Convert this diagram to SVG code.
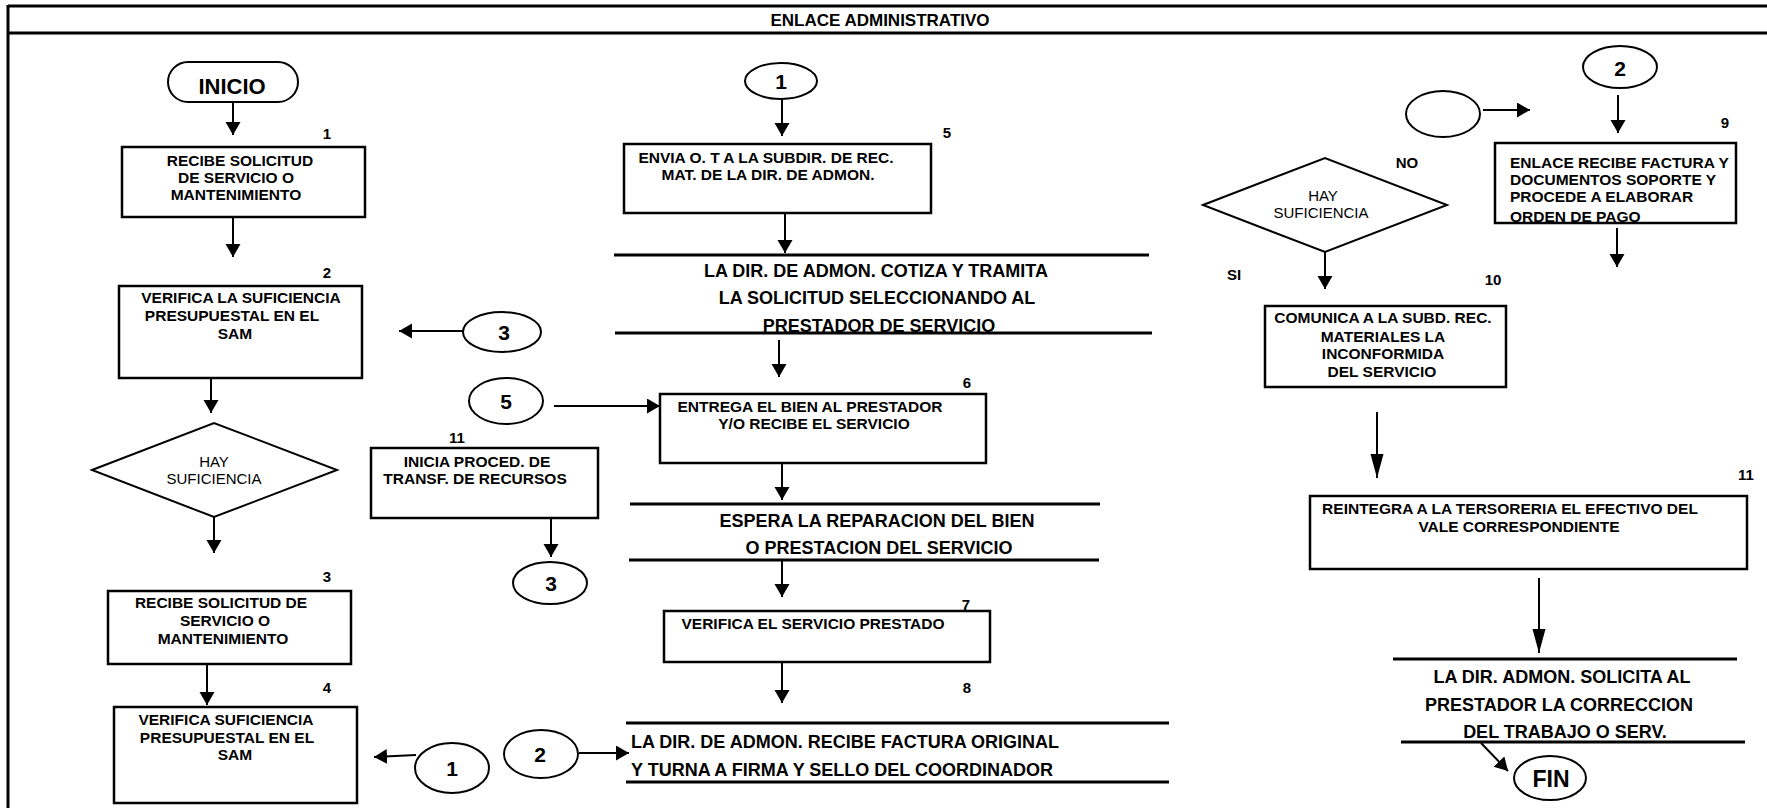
<svg xmlns="http://www.w3.org/2000/svg" width="1767" height="808" viewBox="0 0 1767 808">
<defs>
<style>
.bg{fill:#fff}
.frame{stroke:#000;stroke-width:3;fill:none}
.box{fill:#fff;stroke:#000;stroke-width:2.5}
.oval{fill:#fff;stroke:#000;stroke-width:2}
.rule{stroke:#000;stroke-width:3}
.conn{stroke:#000;stroke-width:2;fill:none}
text{font-family:"Liberation Sans",Arial,sans-serif;font-weight:bold;fill:#000}
.t{font-size:15.5px}
.c{text-anchor:middle}
.rt{font-size:18px}
.num{font-size:15px}
.cn{font-size:21px}
.reg{font-weight:normal;font-size:15px}
.ttl{font-size:17px}
</style>
<marker id="ah" markerUnits="userSpaceOnUse" markerWidth="14" markerHeight="16" refX="13" refY="7.5" orient="auto">
<path d="M0,0 L13,7.5 L0,15 z" fill="#000"/>
</marker>
<marker id="ahl" markerUnits="userSpaceOnUse" markerWidth="25" markerHeight="14" refX="24" refY="6.5" orient="auto">
<path d="M0,0 L24,6.5 L0,13 z" fill="#000"/>
</marker>
</defs>
<rect class="bg" x="0" y="0" width="1767" height="808"/>
<g id="frame">
<line class="frame" x1="8" y1="6" x2="1767" y2="6"/>
<line class="frame" x1="8" y1="33" x2="1767" y2="33"/>
<line class="frame" x1="8" y1="5" x2="8" y2="808"/>
<text class="ttl c" x="880" y="26">ENLACE ADMINISTRATIVO</text>
</g>
<g id="inicio">
<rect class="oval" x="168" y="62" width="130" height="40" rx="20"/>
<text class="c" style="font-size:22px" x="232" y="94">INICIO</text>
</g>
<g id="step1">
<text class="num c" x="327" y="139">1</text>
<rect class="box" x="122" y="147" width="243" height="70"/>
<text class="t c" x="240" y="166">RECIBE SOLICITUD</text>
<text class="t c" x="236" y="183">DE SERVICIO O</text>
<text class="t c" x="236" y="200">MANTENIMIENTO</text>
</g>
<g id="step2">
<text class="num c" x="327" y="278">2</text>
<rect class="box" x="119" y="286" width="243" height="92"/>
<text class="t c" x="241" y="303">VERIFICA LA SUFICIENCIA</text>
<text class="t c" x="232" y="321">PRESUPUESTAL EN EL</text>
<text class="t c" x="235" y="339">SAM</text>
</g>
<g id="conn3a">
<ellipse class="oval" cx="502" cy="332" rx="39" ry="20"/>
<text class="cn c" x="504" y="340">3</text>
</g>
<g id="decision1">
<polygon class="box" points="92,470 214,423 337,470 214,517" style="stroke-width:2"/>
<text class="reg c" x="214" y="467">HAY</text>
<text class="reg c" x="214" y="484">SUFICIENCIA</text>
</g>
<g id="conn5">
<ellipse class="oval" cx="506" cy="401" rx="37" ry="23"/>
<text class="cn c" x="506" y="409">5</text>
</g>
<g id="step11a">
<text class="num c" x="457" y="443">11</text>
<rect class="box" x="371" y="448" width="227" height="70"/>
<text class="t c" x="477" y="467">INICIA PROCED. DE</text>
<text class="t c" x="475" y="484">TRANSF. DE RECURSOS</text>
</g>
<g id="conn3b">
<ellipse class="oval" cx="550" cy="583" rx="37" ry="21"/>
<text class="cn c" x="551" y="591">3</text>
</g>
<g id="step3">
<text class="num c" x="327" y="582">3</text>
<rect class="box" x="108" y="591" width="243" height="73"/>
<text class="t c" x="221" y="608">RECIBE SOLICITUD DE</text>
<text class="t c" x="225" y="626">SERVICIO O</text>
<text class="t c" x="223" y="644">MANTENIMIENTO</text>
</g>
<g id="step4">
<text class="num c" x="327" y="693">4</text>
<rect class="box" x="114" y="707" width="243" height="96"/>
<text class="t c" x="226" y="725">VERIFICA SUFICIENCIA</text>
<text class="t c" x="227" y="743">PRESUPUESTAL EN EL</text>
<text class="t c" x="235" y="760">SAM</text>
</g>
<g id="conn1b">
<ellipse class="oval" cx="452" cy="768" rx="37" ry="25"/>
<text class="cn c" x="452" y="776">1</text>
</g>
<g id="conn2b">
<ellipse class="oval" cx="541" cy="754" rx="37" ry="24"/>
<text class="cn c" x="540" y="762">2</text>
</g>
<g id="conn1a">
<ellipse class="oval" cx="781" cy="81" rx="36" ry="18"/>
<text class="cn c" x="781" y="89">1</text>
</g>
<g id="step5">
<text class="num c" x="947" y="138">5</text>
<rect class="box" x="624" y="144" width="307" height="69"/>
<text class="t c" x="766" y="163">ENVIA O. T A LA SUBDIR. DE REC.</text>
<text class="t c" x="768" y="180">MAT. DE LA DIR. DE ADMON.</text>
</g>
<g id="cotiza">
<line class="rule" x1="614" y1="255" x2="1149" y2="255"/>
<text class="rt c" x="876" y="277">LA DIR. DE ADMON. COTIZA Y TRAMITA</text>
<text class="rt c" x="877" y="304">LA SOLICITUD SELECCIONANDO AL</text>
<text class="rt c" x="879" y="332">PRESTADOR DE SERVICIO</text>
<line class="rule" x1="615" y1="333" x2="1152" y2="333"/>
</g>
<g id="step6">
<text class="num c" x="967" y="388">6</text>
<rect class="box" x="660" y="394" width="326" height="69"/>
<text class="t c" x="810" y="412">ENTREGA EL BIEN AL PRESTADOR</text>
<text class="t c" x="814" y="429">Y/O RECIBE EL SERVICIO</text>
</g>
<g id="espera">
<line class="rule" x1="630" y1="504" x2="1100" y2="504"/>
<text class="rt c" x="877" y="527">ESPERA LA REPARACION DEL BIEN</text>
<text class="rt c" x="879" y="554">O PRESTACION DEL SERVICIO</text>
<line class="rule" x1="629" y1="560" x2="1099" y2="560"/>
</g>
<g id="step7">
<text class="num c" x="966" y="610">7</text>
<rect class="box" x="664" y="611" width="326" height="51"/>
<text class="t c" x="813" y="629">VERIFICA EL SERVICIO PRESTADO</text>
</g>
<g id="step8">
<text class="num c" x="967" y="693">8</text>
<line class="rule" x1="626" y1="723" x2="1169" y2="723"/>
<text class="rt" x="631" y="748">LA DIR. DE ADMON. RECIBE FACTURA ORIGINAL</text>
<text class="rt" x="631" y="776">Y TURNA A FIRMA Y SELLO DEL COORDINADOR</text>
<line class="rule" x1="626" y1="782" x2="1169" y2="782"/>
</g>
<g id="connEmpty">
<ellipse class="oval" cx="1443" cy="114" rx="37" ry="23"/>
</g>
<g id="conn2c">
<ellipse class="oval" cx="1620" cy="67" rx="37" ry="21"/>
<text class="cn c" x="1620" y="76">2</text>
</g>
<g id="step9">
<text class="num c" x="1725" y="128">9</text>
<rect class="box" x="1495" y="143" width="241" height="80"/>
<text class="t" x="1510" y="168">ENLACE RECIBE FACTURA Y</text>
<text class="t" x="1510" y="185">DOCUMENTOS SOPORTE Y</text>
<text class="t" x="1510" y="202">PROCEDE A ELABORAR</text>
<text class="t" x="1510" y="222">ORDEN DE PAGO</text>
</g>
<g id="decision2">
<polygon class="box" points="1203,205 1325,158 1447,205 1325,252" style="stroke-width:2"/>
<text class="reg c" x="1323" y="201">HAY</text>
<text class="reg c" x="1321" y="218">SUFICIENCIA</text>
<text class="num c" x="1407" y="168">NO</text>
<text class="num c" x="1234" y="280">SI</text>
</g>
<g id="step10">
<text class="num c" x="1493" y="285">10</text>
<rect class="box" x="1265" y="306" width="241" height="81"/>
<text class="t c" x="1383" y="323">COMUNICA A LA SUBD. REC.</text>
<text class="t c" x="1383" y="342">MATERIALES LA</text>
<text class="t c" x="1383" y="359">INCONFORMIDA</text>
<text class="t c" x="1382" y="377">DEL SERVICIO</text>
</g>
<g id="step11b">
<text class="num c" x="1746" y="480">11</text>
<rect class="box" x="1310" y="496" width="437" height="73"/>
<text class="t c" x="1510" y="514">REINTEGRA A LA TERSORERIA EL EFECTIVO DEL</text>
<text class="t c" x="1519" y="532">VALE CORRESPONDIENTE</text>
</g>
<g id="solicita">
<line class="rule" x1="1393" y1="659" x2="1737" y2="659"/>
<text class="rt c" x="1562" y="683">LA DIR. ADMON. SOLICITA AL</text>
<text class="rt c" x="1559" y="711">PRESTADOR LA CORRECCION</text>
<text class="rt c" x="1565" y="738">DEL TRABAJO O SERV.</text>
<line class="rule" x1="1401" y1="742" x2="1745" y2="742"/>
</g>
<g id="fin">
<ellipse class="oval" cx="1550" cy="778" rx="36" ry="22"/>
<text class="c" style="font-size:23px" x="1551" y="787">FIN</text>
</g>
<g id="connectors">
<line class="conn" x1="233" y1="102" x2="233" y2="135" marker-end="url(#ah)"/>
<line class="conn" x1="233" y1="217" x2="233" y2="257" marker-end="url(#ah)"/>
<line class="conn" x1="463" y1="331" x2="399" y2="331" marker-end="url(#ah)"/>
<line class="conn" x1="211" y1="378" x2="211" y2="413" marker-end="url(#ah)"/>
<line class="conn" x1="214" y1="517" x2="214" y2="553" marker-end="url(#ah)"/>
<line class="conn" x1="207" y1="664" x2="207" y2="705" marker-end="url(#ah)"/>
<line class="conn" x1="416" y1="755" x2="374" y2="757" marker-end="url(#ah)"/>
<line class="conn" x1="554" y1="406" x2="660" y2="406" marker-end="url(#ah)"/>
<line class="conn" x1="551" y1="518" x2="551" y2="557" marker-end="url(#ah)"/>
<line class="conn" x1="782" y1="99" x2="782" y2="136" marker-end="url(#ah)"/>
<line class="conn" x1="785" y1="213" x2="785" y2="253" marker-end="url(#ah)"/>
<line class="conn" x1="779" y1="340" x2="779" y2="377" marker-end="url(#ah)"/>
<line class="conn" x1="782" y1="463" x2="782" y2="500" marker-end="url(#ah)"/>
<line class="conn" x1="782" y1="560" x2="782" y2="597" marker-end="url(#ah)"/>
<line class="conn" x1="782" y1="662" x2="782" y2="703" marker-end="url(#ah)"/>
<line class="conn" x1="579" y1="753" x2="629" y2="753" marker-end="url(#ah)"/>
<line class="conn" x1="1483" y1="110" x2="1530" y2="110" marker-end="url(#ah)"/>
<line class="conn" x1="1618" y1="95" x2="1618" y2="133" marker-end="url(#ah)"/>
<line class="conn" x1="1617" y1="228" x2="1617" y2="267" marker-end="url(#ah)"/>
<line class="conn" x1="1325" y1="252" x2="1325" y2="289" marker-end="url(#ah)"/>
<line class="conn" x1="1377" y1="412" x2="1377" y2="478" marker-end="url(#ahl)"/>
<line class="conn" x1="1539" y1="578" x2="1539" y2="653" marker-end="url(#ahl)"/>
<line class="conn" x1="1481" y1="743" x2="1508" y2="771" marker-end="url(#ah)"/>
</g>
</svg>
